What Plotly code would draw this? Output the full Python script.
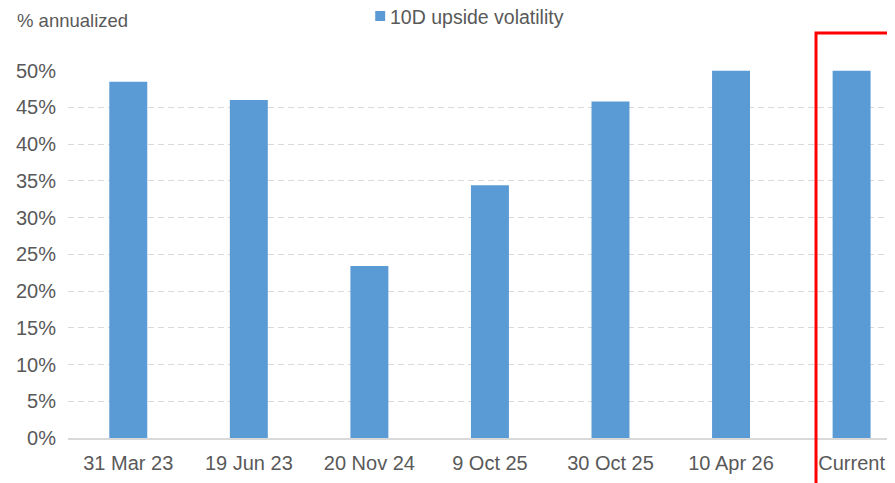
import plotly.graph_objects as go

categories = ["31 Mar 23", "19 Jun 23", "20 Nov 24", "9 Oct 25", "30 Oct 25", "10 Apr 26", "Current"]
upside_vol = [48.5, 46.0, 23.4, 34.4, 45.8, 50.0, 50.0]
tick_vals = [0, 5, 10, 15, 20, 25, 30, 35, 40, 45, 50]
tick_text = [f"{v}%" for v in tick_vals]
series_name = "10D upside volatility"
BAR_COLOR = "#5b9bd5"

FONT = "Liberation Sans, Arial, sans-serif"
GREY = "#595959"

fig = go.Figure()
fig.add_trace(go.Bar(
    x=categories, y=upside_vol, name=series_name,
    marker=dict(color=BAR_COLOR, line=dict(width=0)), width=0.315,
))

fig.update_layout(
    width=887, height=475,
    margin=dict(l=60, r=0, t=62, b=45, autoexpand=False),
    paper_bgcolor="white", plot_bgcolor="white",
    font=dict(family=FONT, size=20, color=GREY),
    showlegend=False,
    xaxis=dict(range=[-0.5, 6.36], showgrid=False, showline=True, linecolor="#d9d9d9",
               linewidth=2, ticks="", ticklabelstandoff=6,
               tickfont=dict(size=20, color=GREY)),
    yaxis=dict(range=[0, 50.1], tickvals=tick_vals, ticktext=tick_text,
               showgrid=True, gridcolor="#d9d9d9", griddash="6px,4px", gridwidth=1,
               zeroline=False, showline=False, ticks="", ticklabelstandoff=11,
               tickfont=dict(size=20, color=GREY)),
)

# legend (drawn manually to match the reference spacing)
fig.add_shape(type="rect", xref="paper", yref="paper",
              x0=0.3715, x1=0.3835, y0=1.1332, y1=1.1603,
              line=dict(width=0), fillcolor=BAR_COLOR)
fig.add_annotation(text=series_name, xref="paper", yref="paper",
                   x=0.3872, y=1.144, xanchor="left", yanchor="middle",
                   showarrow=False, font=dict(size=19.5, color=GREY))

fig.add_annotation(text="% annualized", xref="paper", yref="paper",
                   x=-0.064, y=1.135, xanchor="left", yanchor="middle",
                   showarrow=False, font=dict(size=18.5, color=GREY))

fig.add_shape(type="rect", xref="paper", yref="paper",
              x0=0.9045, x1=0.9939, y0=-0.2, y1=1.1005,
              line=dict(color="#ff0000", width=3), fillcolor="rgba(0,0,0,0)")

fig.write_html("out.html")
